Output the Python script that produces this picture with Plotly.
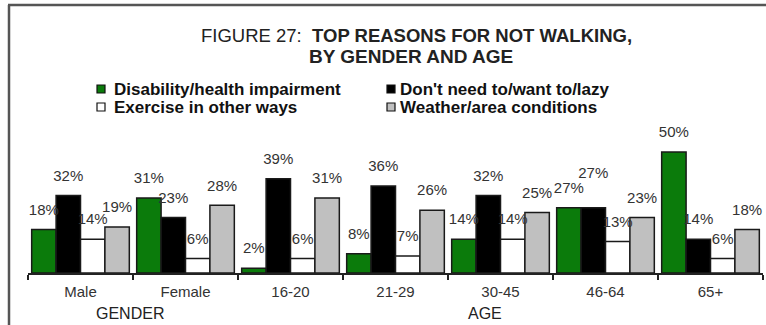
import plotly.graph_objects as go

categories = ["Male", "Female", "16-20", "21-29", "30-45", "46-64", "65+"]
series_names = ["Disability/health impairment", "Don't need to/want to/lazy",
                "Exercise in other ways", "Weather/area conditions"]
disability = [18, 31, 2, 8, 14, 27, 50]
dont_need = [32, 23, 39, 36, 32, 27, 14]
exercise = [14, 6, 6, 7, 14, 13, 6]
weather = [19, 28, 31, 26, 25, 23, 18]
colors = ["#0b7b0b", "#000000", "#ffffff", "#c0c0c0"]

W, H = 766, 325
ML, MR, MT, MB = 28, 3, 140, 52
PW, PH = W - ML - MR, H - MT - MB
YMAX = 55
GAP = 0.07

def px(x):
    return (x - ML) / PW

def py(y):
    return (H - MB - y) / PH

FONT = "Arial, Liberation Sans, sans-serif"

fig = go.Figure()
all_vals = [disability, dont_need, exercise, weather]
for name, vals, col in zip(series_names, all_vals, colors):
    fig.add_trace(go.Bar(
        x=categories, y=vals, name=name,
        marker=dict(color=col, line=dict(color="#1a1a1a", width=1.5)),
        showlegend=False, hoverinfo="skip",
    ))
for si, (name, vals) in enumerate(zip(series_names, all_vals)):
    # lift a label when it would collide with an equal neighbour's label
    sizes = []
    for ci, v in enumerate(vals):
        clash = si > 0 and abs(all_vals[si - 1][ci] - v) <= 2
        sizes.append(40 if clash else 16)
    fig.add_trace(go.Scatter(
        x=categories, y=vals, name=name + " labels", mode="markers+text",
        marker=dict(size=sizes, opacity=0),
        text=[f"{v}%" for v in vals], textposition="top center",
        textfont=dict(family=FONT, size=15, color="#333333"),
        cliponaxis=False, showlegend=False, hoverinfo="skip",
    ))

shapes = []
annotations = []

# frame
shapes.append(dict(type="line", xref="paper", yref="paper", x0=px(9), x1=px(9), y0=py(5), y1=py(330),
                   line=dict(color="#555555", width=2.5)))
shapes.append(dict(type="line", xref="paper", yref="paper", x0=px(8), x1=px(770), y0=py(5), y1=py(5),
                   line=dict(color="#555555", width=2.5)))

# title
annotations.append(dict(xref="paper", yref="paper", x=px(416), y=py(35), xanchor="center", yanchor="middle",
                        showarrow=False,
                        text="FIGURE 27:&nbsp;&nbsp;<b>TOP REASONS FOR NOT WALKING,</b>",
                        font=dict(family=FONT, size=18.5, color="#222222")))
annotations.append(dict(xref="paper", yref="paper", x=px(411), y=py(56), xanchor="center", yanchor="middle",
                        showarrow=False,
                        text="<b>BY GENDER AND AGE</b>",
                        font=dict(family=FONT, size=19, color="#222222")))

# legend
leg = [(97, 89, 112), (387, 89, 398), (97, 107, 112), (387, 107, 398)]
for (mx, my, tx), name, col in zip(leg, series_names, colors):
    shapes.append(dict(type="rect", xref="paper", yref="paper", x0=px(mx), x1=px(mx + 8),
                       y0=py(my - 4), y1=py(my + 4), fillcolor=col,
                       line=dict(color="#111111", width=1.2)))
    annotations.append(dict(xref="paper", yref="paper", x=px(tx), y=py(my), xanchor="left", yanchor="middle",
                            showarrow=False, text=f"<b>{name}</b>",
                            font=dict(family=FONT, size=17, color="#111111")))

# group titles
annotations.append(dict(xref="paper", yref="paper", x=px(130), y=py(313), xanchor="center", yanchor="middle",
                        showarrow=False, text="GENDER", font=dict(family=FONT, size=16, color="#222222")))
annotations.append(dict(xref="paper", yref="paper", x=px(485), y=py(313), xanchor="center", yanchor="middle",
                        showarrow=False, text="AGE", font=dict(family=FONT, size=16, color="#222222")))

fig.update_layout(
    width=W, height=H,
    margin=dict(l=ML, r=MR, t=MT, b=MB, autoexpand=False),
    paper_bgcolor="white", plot_bgcolor="white",
    barmode="group", bargap=GAP, bargroupgap=0,
    scattermode="group", scattergap=GAP,
    shapes=shapes, annotations=annotations,
    xaxis=dict(showline=True, linecolor="#222222", linewidth=1.5,
               ticks="outside", tickson="boundaries", ticklen=5, tickcolor="#222222", tickwidth=1.5,
               tickfont=dict(family=FONT, size=15, color="#333333"), showgrid=False,
               ticklabelstandoff=4, fixedrange=True),
    yaxis=dict(range=[0, YMAX], visible=False, fixedrange=True),
    font=dict(family=FONT),
)

fig.write_html("out.html", config={"displayModeBar": False},
               post_script="document.body.style.margin='0';document.body.style.overflow='hidden';")
